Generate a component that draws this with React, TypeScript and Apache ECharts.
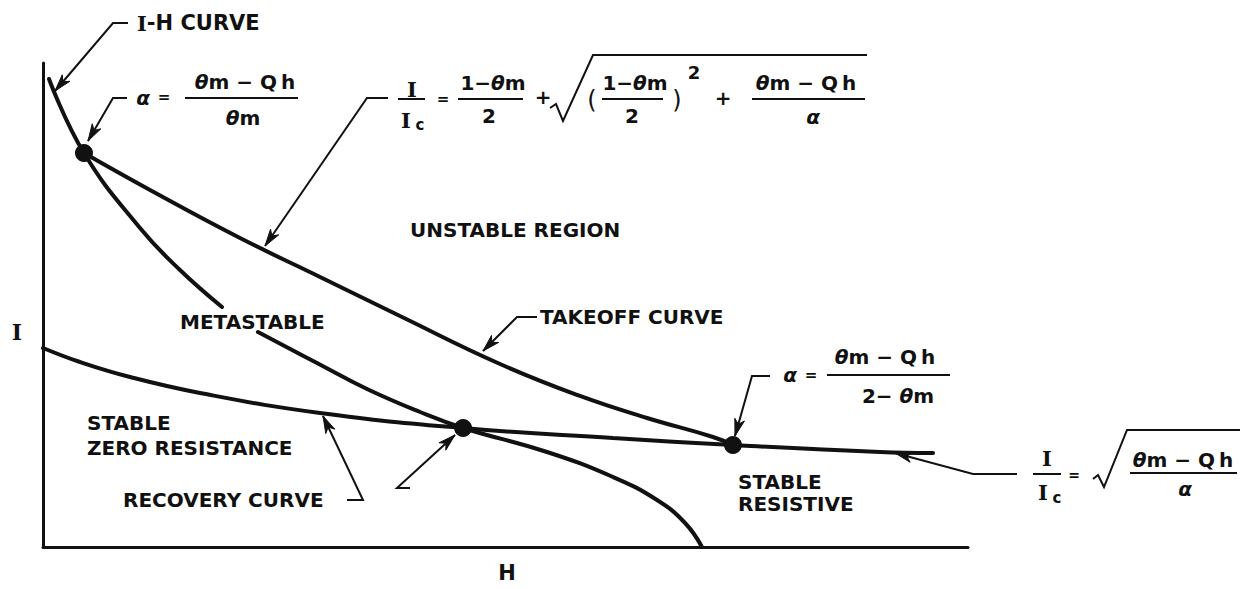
import React, { useEffect, useRef } from "react";
import * as echarts from "echarts";

// Field H on the x axis and current I on the y axis, both in arbitrary units (0–100).
const H_RANGE = [0, 100];
const I_RANGE = [0, 100];

// Points where the curves cross.
const dotUpper = [4.43, 81.4]; // I-H curve meets takeoff curve
const dotMiddle = [45.41, 24.59]; // I-H curve meets recovery curve
const dotLower = [74.59, 21.07]; // takeoff curve meets recovery curve

// I-H curve, broken where the METASTABLE label sits.
const ihCurveUpper = [[0.65, 96.7], dotUpper, [10.49, 65.9], [14.81, 57.23], [19.35, 49.59]];
const ihCurveLower = [
  [23.24, 44.42], [29.62, 38.02], [35.03, 32.64], [40.76, 27.89], dotMiddle,
  [54.49, 19.63], [61.62, 14.46], [66.38, 9.71], [69.41, 4.96], [71.24, 0],
];

// Takeoff curve.
const takeoffCurve = [
  dotUpper, [11.57, 73.76], [21.3, 63.84], [29.95, 55.79], [38.59, 47.73],
  [49.41, 37.81], [58.05, 31.2], [65.3, 26.65], [72.43, 22.73], dotLower,
];

// Recovery curve.
const recoveryCurve = [
  [0, 41.12], [4.0, 38.22], [9.41, 35.12], [16.97, 31.82], [29.95, 27.69], dotMiddle,
  [61.62, 22.52], dotLower, [90.49, 19.63], [96.22, 19.42],
];

const crossings = [dotUpper, dotMiddle, dotLower];

const INK = "#111";
const SANS = "DejaVu Sans";
const SERIF = "DejaVu Serif";

const RICH = {
  i: { fontStyle: "italic", fontFamily: SANS, fontWeight: "bold", fontSize: 20, fill: INK },
  s: { fontFamily: SERIF, fontWeight: "bold", fontSize: 21, fill: INK },
};

function txt(x: number, y: number, text: string, opts: any = {}) {
  return {
    type: "text",
    x,
    y,
    silent: true,
    style: {
      text,
      fontFamily: opts.fontFamily || SANS,
      fontWeight: opts.fontWeight || "bold",
      fontStyle: opts.fontStyle || "normal",
      fontSize: opts.fontSize || 20,
      fill: INK,
      align: opts.align || "left",
      verticalAlign: "middle",
      rich: RICH,
    },
  };
}

function bar(x1: number, x2: number, y: number) {
  return {
    type: "line",
    silent: true,
    shape: { x1, y1: y, x2, y2: y },
    style: { stroke: INK, lineWidth: 2 },
  };
}

function poly(points: number[][], w = 2) {
  return {
    type: "polyline",
    silent: true,
    shape: { points },
    style: { stroke: INK, lineWidth: w, fill: null, lineJoin: "miter" },
  };
}

// Leader line whose last point is the arrow tip.
function leader(points: number[][]) {
  const n = points.length;
  const [tx, ty] = points[n - 1];
  const [fx, fy] = points[n - 2];
  const dx = tx - fx;
  const dy = ty - fy;
  const len = Math.hypot(dx, dy);
  const ux = dx / len;
  const uy = dy / len;
  const L = 17;
  const W = 5;
  const bx = tx - ux * L;
  const by = ty - uy * L;
  const head = [
    [tx, ty],
    [bx - uy * W, by + ux * W],
    [tx - ux * L * 0.72, ty - uy * L * 0.72],
    [bx + uy * W, by - ux * W],
  ];
  return [
    poly(points, 2),
    { type: "polygon", silent: true, shape: { points: head }, style: { fill: INK, stroke: INK, lineWidth: 1 } },
  ];
}

function annotations() {
  const g: any[] = [];

  // Axis names
  g.push(txt(17, 332, "I", { fontFamily: SERIF, fontSize: 22, align: "center" }));
  g.push(txt(507, 573, "H", { fontSize: 21, align: "center" }));

  // Region and curve labels
  g.push(txt(137, 23, "{s|I}-H CURVE", { fontSize: 21 }));
  g.push(txt(410, 230, "UNSTABLE REGION"));
  g.push(txt(180, 322, "METASTABLE"));
  g.push(txt(540, 317, "TAKEOFF CURVE"));
  g.push(txt(87, 423, "STABLE"));
  g.push(txt(87, 448, "ZERO RESISTANCE"));
  g.push(txt(123, 500, "RECOVERY CURVE"));
  g.push(txt(738, 482, "STABLE"));
  g.push(txt(738, 504, "RESISTIVE"));

  // Leaders
  g.push(...leader([[128, 23], [113, 23], [55, 91]]));
  g.push(...leader([[127, 98], [113, 98], [88, 141]]));
  g.push(...leader([[388, 98], [367, 98], [265, 246]]));
  g.push(...leader([[537, 317], [517, 317], [483, 351]]));
  g.push(...leader([[770, 376], [752, 376], [735, 436]]));
  g.push(...leader([[1017, 474], [973, 474], [895, 453]]));
  g.push(...leader([[347, 500], [363, 500], [323, 416]]));
  g.push(...leader([[410, 488], [397, 488], [455, 435]]));

  // α = (θm − Qh) / θm
  g.push(txt(143, 98, "{i|α}", { align: "center" }));
  g.push(txt(164, 97, "=", { fontSize: 15, align: "center" }));
  g.push(txt(245, 82, "{i|θ}m − Q\u2009h", { align: "center" }));
  g.push(bar(185, 298, 98));
  g.push(txt(243, 118, "{i|θ}m", { align: "center" }));

  // I/Ic = (1−θm)/2 + sqrt(((1−θm)/2)² + (θm − Qh)/α)
  g.push(txt(412, 89, "I", { fontFamily: SERIF, fontSize: 21, align: "center" }));
  g.push(bar(398, 425, 99));
  g.push(txt(406, 120, "I", { fontFamily: SERIF, fontSize: 21, align: "center" }));
  g.push(txt(420, 125, "c", { fontSize: 15, align: "center" }));
  g.push(txt(443, 99, "=", { fontSize: 15, align: "center" }));
  g.push(txt(493, 83, "1−{i|θ}m", { align: "center" }));
  g.push(bar(458, 523, 99));
  g.push(txt(489, 116, "2", { align: "center" }));
  g.push(txt(543, 97, "+", { align: "center" }));
  g.push(poly([[550, 108], [556, 104], [563, 121], [593, 55], [867, 55]], 2));
  g.push(txt(592, 100, "(", { fontSize: 24, fontWeight: "normal", align: "center" }));
  g.push(txt(635, 83, "1−{i|θ}m", { align: "center" }));
  g.push(bar(602, 663, 99));
  g.push(txt(632, 116, "2", { align: "center" }));
  g.push(txt(677, 100, ")", { fontSize: 24, fontWeight: "normal", align: "center" }));
  g.push(txt(694, 72, "2", { fontSize: 18, align: "center" }));
  g.push(txt(723, 98, "+", { align: "center" }));
  g.push(txt(806, 83, "{i|θ}m − Q\u2009h", { align: "center" }));
  g.push(bar(752, 865, 99));
  g.push(txt(813, 117, "{i|α}", { align: "center" }));

  // α = (θm − Qh) / (2 − θm)
  g.push(txt(790, 375, "{i|α}", { align: "center" }));
  g.push(txt(811, 375, "=", { fontSize: 15, align: "center" }));
  g.push(txt(885, 357, "{i|θ}m − Q\u2009h", { align: "center" }));
  g.push(bar(827, 950, 375));
  g.push(txt(898, 396, "2− {i|θ}m", { align: "center" }));

  // I/Ic = sqrt((θm − Qh)/α)
  g.push(txt(1047, 458, "I", { fontFamily: SERIF, fontSize: 21, align: "center" }));
  g.push(bar(1033, 1061, 474));
  g.push(txt(1043, 492, "I", { fontFamily: SERIF, fontSize: 21, align: "center" }));
  g.push(txt(1057, 498, "c", { fontSize: 15, align: "center" }));
  g.push(txt(1074, 475, "=", { fontSize: 14, align: "center" }));
  g.push(poly([[1093, 479], [1098, 475], [1104, 487], [1127, 430], [1240, 430]], 2));
  g.push(txt(1183, 460, "{i|θ}m − Q\u2009h", { align: "center" }));
  g.push(bar(1130, 1237, 473));
  g.push(txt(1185, 489, "{i|α}", { align: "center" }));

  return g;
}

function curveSeries(name: string, data: number[][]) {
  return {
    name,
    type: "line",
    data,
    symbol: "none",
    smooth: 0.45,
    silent: true,
    lineStyle: { color: INK, width: 4, cap: "round" },
    z: 3,
  };
}

export default function App() {
  const ref = useRef<HTMLDivElement>(null);

  useEffect(() => {
    if (!ref.current) return;
    const chart = echarts.init(ref.current, null, { renderer: "svg" });
    const axisBase = {
      type: "value",
      axisLine: { show: true, onZero: true, lineStyle: { color: INK, width: 3 } },
      axisTick: { show: false },
      axisLabel: { show: false },
      splitLine: { show: false },
    };
    chart.setOption({
      animation: false,
      backgroundColor: "#ffffff",
      grid: { left: 43, top: 63, width: 925, height: 484 },
      xAxis: { ...axisBase, min: H_RANGE[0], max: H_RANGE[1] },
      yAxis: { ...axisBase, min: I_RANGE[0], max: I_RANGE[1] },
      series: [
        curveSeries("I-H curve", ihCurveUpper),
        curveSeries("I-H curve (lower)", ihCurveLower),
        curveSeries("Takeoff curve", takeoffCurve),
        curveSeries("Recovery curve", recoveryCurve),
        {
          name: "Crossings",
          type: "scatter",
          data: crossings,
          symbol: "circle",
          symbolSize: 18,
          silent: true,
          itemStyle: { color: INK, opacity: 1 },
          z: 5,
        },
      ],
      graphic: annotations(),
    });
    return () => chart.dispose();
  }, []);

  return (
    <div
      ref={ref}
      style={{ position: "fixed", left: 0, top: 0, width: 1240, height: 589, background: "#fff" }}
    />
  );
}
